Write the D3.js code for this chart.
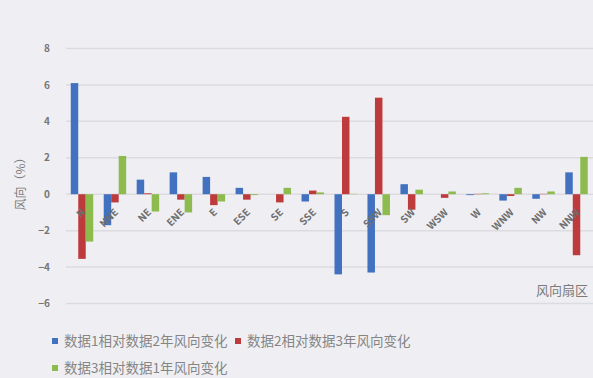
<!DOCTYPE html>
<html>
<head>
<meta charset="utf-8">
<script src="https://cdn.jsdelivr.net/npm/d3@7/dist/d3.min.js"></script>
<style>
  html, body { margin: 0; padding: 0; background: #efeff3; }
  svg { display: block; }
  text { font-family: "Noto Sans CJK SC", "Noto Sans", sans-serif; }
</style>
</head>
<body>
<svg id="chart" width="593" height="378"></svg>
<script>
// Wind direction sectors
const sectors = ["N", "NNE", "NE", "ENE", "E", "ESE", "SE", "SSE",
                 "S", "SSW", "SW", "WSW", "W", "WNW", "NW", "NNW"];

// Change in wind direction frequency (%) per sector
const change12 = [6.1, -1.7, 0.8, 1.2, 0.95, 0.35, 0.0, -0.4,
                  -4.4, -4.3, 0.55, 0.0, -0.05, -0.35, -0.25, 1.2];
const change23 = [-3.55, -0.45, 0.05, -0.3, -0.6, -0.3, -0.45, 0.2,
                  4.25, 5.3, -0.85, -0.2, 0.02, -0.1, 0.02, -3.35];
const change31 = [-2.6, 2.1, -0.95, -1.0, -0.4, -0.05, 0.35, 0.1,
                  0.02, -1.15, 0.25, 0.15, 0.05, 0.35, 0.15, 2.05];

const seriesNames = ["数据1相对数据2年风向变化", "数据2相对数据3年风向变化", "数据3相对数据1年风向变化"];
const seriesColors = ["#4271bf", "#be3b3d", "#8dbb4e"];
const yTicks = [-6, -4, -2, 0, 2, 4, 6, 8];

const seriesValues = [change12, change23, change31];

const svg = d3.select("#chart");

const x0 = d3.scaleBand().domain(sectors).range([65.5, 593]).padding(0);
const x1 = d3.scaleBand().domain(d3.range(3)).range([0, x0.bandwidth()])
  .paddingInner(0).paddingOuter(0.7);
const y = d3.scaleLinear().domain([-6, 8]).range([303.5, 48.5]);

// horizontal gridlines
svg.append("g").selectAll("line").data(yTicks).join("line")
  .attr("x1", 66).attr("x2", 593)
  .attr("y1", d => y(d)).attr("y2", d => y(d))
  .attr("stroke", "#dcdce0").attr("stroke-width", 1.5);

// y axis tick labels
const yAxis = d3.axisLeft(y).tickValues(yTicks).tickSize(0).tickPadding(0)
  .tickFormat(d3.format("d"));
const gy = svg.append("g").attr("transform", "translate(50,0)").call(yAxis);
gy.select(".domain").remove();
gy.selectAll("text").attr("fill", "#767676").attr("font-size", 10)
  .attr("font-weight", "bold")
  .attr("font-family", "Liberation Sans, sans-serif");

// bars
const groups = svg.append("g").selectAll("g").data(sectors).join("g")
  .attr("transform", d => `translate(${x0(d)},0)`);
groups.selectAll("rect")
  .data((d, i) => seriesValues.map((vals, s) => ({ s, v: vals[i] })))
  .join("rect")
  .attr("x", d => x1(d.s))
  .attr("width", x1.bandwidth())
  .attr("y", d => Math.min(y(d.v), y(0)))
  .attr("height", d => Math.abs(y(d.v) - y(0)))
  .attr("fill", d => seriesColors[d.s]);

// rotated sector labels
svg.append("g").selectAll("text").data(sectors).join("text")
  .attr("transform", d => `translate(${x0(d) + x0.bandwidth() / 2 + 4},213) rotate(-45)`)
  .attr("text-anchor", "end")
  .attr("font-size", 10)
  .attr("font-weight", "bold")
  .attr("font-family", "Liberation Serif, serif")
  .attr("fill", "#6e6e6e")
  .text(d => d);

// axis titles
svg.append("text")
  .attr("transform", "translate(25,181) rotate(-90)")
  .attr("text-anchor", "middle")
  .attr("font-size", 12)
  .attr("fill", "#7a7a7a")
  .text("风向（%）");

svg.append("text")
  .attr("x", 588).attr("y", 295)
  .attr("text-anchor", "end")
  .attr("font-size", 13)
  .attr("fill", "#7a7a7a")
  .text("风向扇区");

// legend
const legendPos = [[52, 341], [235, 341], [52, 368]];
const legend = svg.append("g").selectAll("g").data(seriesNames).join("g")
  .attr("transform", (d, i) => `translate(${legendPos[i][0]},${legendPos[i][1]})`);
legend.append("rect")
  .attr("x", 0).attr("y", -3).attr("width", 6).attr("height", 6)
  .attr("fill", (d, i) => seriesColors[i]);
legend.append("text")
  .attr("x", 12).attr("y", 4.5)
  .attr("font-size", 13.5)
  .attr("fill", "#858585")
  .text(d => d);
</script>
</body>
</html>
